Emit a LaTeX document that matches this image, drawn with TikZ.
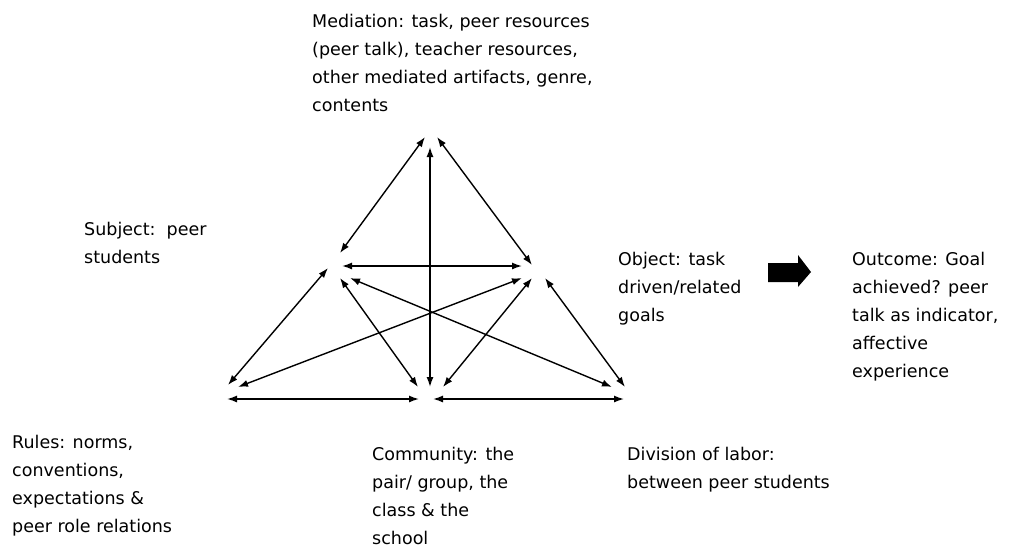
\documentclass[tikz,border=0pt]{standalone}
\usepackage{fontspec}
\setmainfont{DejaVu Sans}
\usetikzlibrary{arrows.meta}
\begin{document}
\begin{tikzpicture}[x=1pt,y=-1pt,
  lbl/.style={anchor=north west,inner sep=0pt,align=left,font=\fontsize{17.5}{28}\selectfont},
  link/.style={{Latex[length=10pt,width=7pt]}-{Latex[length=10pt,width=7pt]},line width=1.4pt}]
\useasboundingbox (0,0) rectangle (1029,550);
% labels
\node[lbl] (med) at (312,14.0) {Mediation: task, peer resources\\(peer talk), teacher resources,\\other mediated artifacts, genre,\\contents};
\node[lbl] (subj) at (84,221.7) {Subject:\ \ peer\\students};
\node[lbl] (obj) at (618,251.7) {Object: task\\driven/related\\goals};
\node[lbl] (out) at (852,251.7) {Outcome: Goal\\achieved? peer\\talk as indicator,\\affective\\experience};
\node[lbl] (rules) at (12,434.7) {Rules: norms,\\conventions,\\expectations \&\\peer role relations};
\node[lbl] (comm) at (372,446.7) {Community: the\\pair/ group, the\\class \& the\\school};
\node[lbl] (div) at (627,446.7) {Division of labor:\\between peer students};
% endpoints
\coordinate (a1) at (425,137); \coordinate (b1) at (340,253);
\coordinate (a2) at (437,137); \coordinate (b2) at (532,265);
\coordinate (a3) at (430,147); \coordinate (b3) at (430,387);
\coordinate (a4) at (342,266); \coordinate (b4) at (522,266);
\coordinate (a5) at (328,268); \coordinate (b5) at (228,385);
\coordinate (a6) at (340,278); \coordinate (b6) at (418,387);
\coordinate (a7) at (350,278); \coordinate (b7) at (612,387);
\coordinate (a8) at (238,387); \coordinate (b8) at (522,278);
\coordinate (a9) at (532,278); \coordinate (b9) at (443,387);
\coordinate (a10) at (545,278); \coordinate (b10) at (625,387);
\coordinate (a11) at (227,399); \coordinate (b11) at (419,399);
\coordinate (a12) at (433,399); \coordinate (b12) at (624,399);
\foreach \i in {1,...,12} {\draw[link] (a\i) -- (b\i);}
% block arrow
\fill (768,263) -- (798,263) -- (798,255) -- (811,272) -- (798,287) -- (798,282) -- (768,282) -- cycle;
\end{tikzpicture}
\end{document}
